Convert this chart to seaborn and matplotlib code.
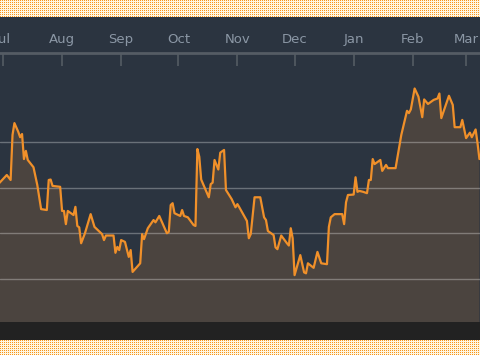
import numpy as np
import pandas as pd
import matplotlib
matplotlib.use("Agg")
import matplotlib.pyplot as plt
import matplotlib.dates as mdates
from matplotlib.patches import Rectangle
import seaborn as sns

# --- data (days since 1 Jul, price level) ---
start = pd.Timestamp("2018-07-01")
days = [-2, 2, 4, 5, 6, 8, 9, 10, 11, 12, 13, 16, 18, 20, 23, 24, 25, 26, 30,
        31, 32, 33, 34, 37, 38, 39, 40, 41, 43, 46, 48, 51, 52, 53, 54, 58, 59, 60, 61,
        62, 64, 66, 67, 68, 72, 73, 74, 76, 79, 80, 82, 86, 87, 88, 89, 90,
        93, 94, 95, 97, 100, 101, 102, 103, 104, 108, 109, 110, 111, 113, 114, 116, 117, 120, 122,
        123, 124, 128, 129, 130, 132, 135, 137, 138, 139, 142, 143, 144, 146, 149, 150, 151, 152,
        153, 156, 158, 159, 160, 163, 165, 167, 170, 171, 172, 174, 178, 179, 180, 181,
        184, 185, 186, 187, 189, 191, 192, 193, 194, 195, 198, 199, 201, 202, 206, 209,
        212, 213, 214, 216, 218, 220, 221, 223, 226, 228, 229, 230, 234, 236, 237, 240,
        241, 243, 245, 246, 248, 249, 250]
price = [31.0, 32.8, 31.7, 41.6, 44.2, 42.3, 41.1, 41.8, 36.3, 38.1, 36.1, 34.5, 30.6, 25.3, 25.1, 31.7, 31.8, 30.4, 30.2,
         24.9, 24.9, 22.0, 24.9, 24.0, 25.8, 21.6, 21.3, 17.8, 20.0, 24.2, 21.4, 20.2, 19.8, 18.5, 19.5, 19.5, 15.7, 17.0, 16.3,
         18.5, 18.1, 14.8, 16.3, 11.5, 13.4, 19.8, 18.7, 21.1, 22.9, 22.4, 23.8, 20.0, 20.3, 26.2, 26.6, 24.4,
         23.8, 25.1, 23.8, 23.5, 21.8, 21.6, 38.5, 36.8, 31.8, 27.9, 30.8, 31.1, 36.1, 34.0, 37.7, 38.3, 29.5, 27.5, 25.7,
         26.4, 25.7, 22.7, 18.9, 19.8, 27.9, 27.9, 23.5, 22.9, 20.5, 19.6, 16.9, 16.5, 19.5, 17.8, 17.3, 21.1, 18.9,
         10.8, 15.2, 11.4, 11.2, 13.4, 12.4, 15.9, 13.4, 13.2, 21.4, 23.5, 24.2, 24.2, 22.0, 26.8, 28.4,
         28.5, 32.3, 29.1, 29.3, 29.1, 28.8, 31.7, 31.7, 36.3, 35.2, 36.1, 33.7, 35.0, 34.3, 34.3, 41.6,
         46.9, 46.4, 47.2, 51.8, 50.0, 45.5, 49.4, 48.4, 49.3, 49.6, 50.7, 45.3, 50.2, 48.2, 43.3, 43.3,
         44.9, 40.9, 42.1, 41.1, 42.8, 39.8, 36.3]
grid_levels = [10, 20, 30, 40]

df = pd.DataFrame({"date": start + pd.to_timedelta(days, unit="D"), "price": price})

# --- colours ---
navy = "#2b3440"
fill_col = "#4b443f"
line_col = "#f0902a"
label_col = "#8b97a5"
axis_col = "#555c64"

sns.set_style("dark", {"axes.facecolor": navy})
plt.rcParams["font.family"] = ["DejaVu Sans"]

fig = plt.figure(figsize=(4.8, 3.55), dpi=100)

# orange dotted frame behind everything
h, w = 355, 480
pat = np.ones((h, w, 3))
pat[:, :] = matplotlib.colors.to_rgb("#fff6e0")
pat[::2, ::2] = matplotlib.colors.to_rgb("#f7941d")
fig.figimage(pat, 0, 0, zorder=-3)

# dark panel and bottom strip
fig.add_artist(Rectangle((0, 15 / h), 1, (340 - 17) / h, transform=fig.transFigure,
                         facecolor=navy, edgecolor="none", zorder=-2))
fig.add_artist(Rectangle((0, 15 / h), 1, 18 / h, transform=fig.transFigure,
                         facecolor="#222222", edgecolor="none", zorder=-1))

ax = fig.add_axes([0, 1 - 322 / h, 1, (322 - 53) / h])
ax.set_facecolor(navy)

ax.fill_between(df["date"], df["price"], 0, color=fill_col, zorder=1, lw=0)
for g in grid_levels:
    ax.axhline(g, color="white", alpha=0.3, lw=1.0, zorder=2)
sns.lineplot(data=df, x="date", y="price", ax=ax, color=line_col, lw=1.6, zorder=3)

ax.set_ylim(0.5, 59.6)
ax.set_xlim(start - pd.Timedelta(days=1.57), start + pd.Timedelta(days=250.3))
ax.set_xlabel("")
ax.set_ylabel("")
ax.set_yticks([])

ax.xaxis.tick_top()
ax.xaxis.set_major_locator(mdates.MonthLocator())
ax.xaxis.set_major_formatter(mdates.DateFormatter("%b"))
ax.tick_params(axis="x", direction="in", length=9.5, width=1.2, color=axis_col,
               labelcolor=label_col, labelsize=9.5, pad=5, top=True, bottom=False)

for side in ["left", "right", "bottom"]:
    ax.spines[side].set_visible(False)
ax.spines["top"].set_visible(True)
ax.spines["top"].set_color(axis_col)
ax.spines["top"].set_linewidth(2)
ax.grid(False)

fig.savefig("out.png", dpi=100)
